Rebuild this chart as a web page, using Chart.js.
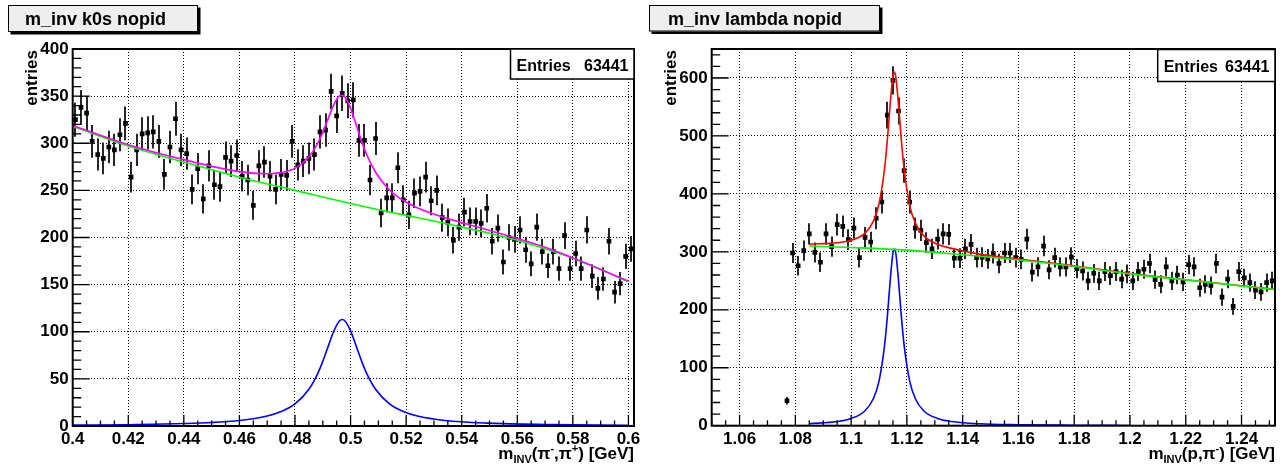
<!DOCTYPE html>
<html>
<head>
<meta charset="utf-8">
<script src="https://cdn.jsdelivr.net/npm/chart.js@4.4.0/dist/chart.umd.min.js"></script>
<style>
body { margin: 0; background: #fff; }
#wrap { position: relative; width: 1288px; height: 467px; }
canvas { position: absolute; top: 0; }
</style>
</head>
<body>
<div id="wrap">
<canvas id="k0s" width="644" height="467" style="left:0"></canvas>
<canvas id="lambda" width="644" height="467" style="left:644px"></canvas>
</div>
<script>
/* globals Chart */

// ---- K0s panel: bin centres [GeV] and entries per bin
const k0sMass = [
    0.401, 0.403, 0.405, 0.407, 0.409, 0.411, 0.413, 0.415, 0.417, 0.419,
    0.421, 0.423, 0.425, 0.427, 0.429, 0.431, 0.433, 0.435, 0.437, 0.439,
    0.441, 0.443, 0.445, 0.447, 0.449, 0.451, 0.453, 0.455, 0.457, 0.459,
    0.461, 0.463, 0.465, 0.467, 0.469, 0.471, 0.473, 0.475, 0.477, 0.479,
    0.481, 0.483, 0.485, 0.487, 0.489, 0.491, 0.493, 0.495, 0.497, 0.499,
    0.501, 0.503, 0.505, 0.507, 0.509, 0.511, 0.513, 0.515, 0.517, 0.519,
    0.521, 0.523, 0.525, 0.527, 0.529, 0.531, 0.533, 0.535, 0.537, 0.539,
    0.541, 0.543, 0.545, 0.547, 0.549, 0.551, 0.553, 0.555, 0.557, 0.559,
    0.561, 0.563, 0.565, 0.567, 0.569, 0.571, 0.573, 0.575, 0.577, 0.579,
    0.581, 0.583, 0.585, 0.587, 0.589, 0.591, 0.593, 0.595, 0.597, 0.599,
    0.601
];
const k0sCounts = [
    325, 338, 332, 302, 288, 284, 296, 293, 309, 321,
    264, 293, 310, 311, 312, 302, 267, 296, 326, 293,
    289, 251, 273, 241, 276, 256, 254, 285, 281, 287,
    265, 261, 234, 276, 280, 265, 251, 267, 266, 302,
    277, 281, 284, 288, 312, 314, 355, 329, 353, 345,
    346, 303, 303, 261, 305, 226, 242, 242, 274, 240,
    224, 247, 249, 264, 239, 250, 221, 216, 197, 211,
    227, 217, 217, 215, 231, 196, 210, 174, 200, 198,
    208, 187, 172, 211, 185, 170, 185, 167, 202, 167,
    183, 167, 208, 159, 146, 156, 196, 142, 151, 180,
    188
];
// fit curves
const k0sFitMass = [0.4, 0.42, 0.44, 0.46, 0.47, 0.475, 0.48, 0.485, 0.488, 0.49, 0.492, 0.494, 0.496, 0.497,
    0.498, 0.5, 0.502, 0.504, 0.506, 0.509, 0.514, 0.519, 0.524, 0.534, 0.55, 0.57, 0.6];
const k0sSignal = [0.9, 1.4, 2.6, 5.9, 10.6, 15.3, 23.4, 39, 54.6, 68.6, 85, 101, 111.5, 113,
    111.5, 101, 85, 68.6, 54.6, 39, 23.4, 15.3, 10.6, 5.9, 3, 1.6, 0.8];
const k0sTotal = [318.9, 298.4, 282.6, 269.9, 267.6, 268.8, 273.4, 285.5, 299.1, 311.6, 326.5, 341.2, 350.3, 351,
    348.9, 337, 319.7, 302, 286.6, 269.2, 250.4, 239.3, 231.6, 220.9, 207.5, 189.6, 153.8];
const k0sBkgMass = [0.4, 0.42, 0.44, 0.46, 0.48, 0.5, 0.51, 0.52, 0.53, 0.54, 0.55, 0.56, 0.57, 0.58, 0.59, 0.6];
const k0sBkg = [318, 297, 280, 264, 250, 236, 229.5, 223.5, 217.5, 211, 204.5, 197, 188, 178, 166, 153];
const k0sXTicks = [0.4, 0.42, 0.44, 0.46, 0.48, 0.5, 0.52, 0.54, 0.56, 0.58, 0.6];
const k0sYTicks = [0, 50, 100, 150, 200, 250, 300, 350, 400];

// ---- Lambda panel
const lambdaMass = [
    1.051, 1.053, 1.055, 1.057, 1.059, 1.061, 1.063, 1.065, 1.067, 1.069,
    1.071, 1.073, 1.075, 1.077, 1.079, 1.081, 1.083, 1.085, 1.087, 1.089,
    1.091, 1.093, 1.095, 1.097, 1.099, 1.101, 1.103, 1.105, 1.107, 1.109,
    1.111, 1.113, 1.115, 1.117, 1.119, 1.121, 1.123, 1.125, 1.127, 1.129,
    1.131, 1.133, 1.135, 1.137, 1.139, 1.141, 1.143, 1.145, 1.147, 1.149,
    1.151, 1.153, 1.155, 1.157, 1.159, 1.161, 1.163, 1.165, 1.167, 1.169,
    1.171, 1.173, 1.175, 1.177, 1.179, 1.181, 1.183, 1.185, 1.187, 1.189,
    1.191, 1.193, 1.195, 1.197, 1.199, 1.201, 1.203, 1.205, 1.207, 1.209,
    1.211, 1.213, 1.215, 1.217, 1.219, 1.221, 1.223, 1.225, 1.227, 1.229,
    1.231, 1.233, 1.235, 1.237, 1.239, 1.241, 1.243, 1.245, 1.247, 1.249,
    1.251
];
const lambdaCounts = [
    null, null, null, null, null, null, null, null, null, null,
    null, null, null, 43, 298, 276, 302, 331, 299, 282,
    331, 309, 347, 344, 321, 341, 290, 325, 317, 358,
    386, 536, 596, 543, 440, 386, 341, 337, 316, 305,
    322, 331, 330, 289, 289, 305, 313, 290, 291, 288,
    297, 280, 298, 298, 290, 287, 322, 265, 274, 310,
    269, 290, 274, 274, 291, 271, 267, 250, 263, 250,
    266, 259, 266, 253, 262, 250, 266, 270, 280, 252,
    244, 274, 250, 260, 248, 278, 274, 238, 244, 242,
    280, 222, 253, 206, 266, 255, 247, 234, 231, 247,
    250
];
const lambdaFitMass = [1.085, 1.095, 1.1, 1.105, 1.108, 1.11, 1.112, 1.113, 1.114, 1.115, 1.1155, 1.116,
    1.117, 1.118, 1.119, 1.121, 1.123, 1.126, 1.131, 1.136, 1.146, 1.16, 1.18, 1.2];
const lambdaSignal = [3.3, 7.3, 12.4, 25.9, 47, 77, 139, 189, 250, 298, 305, 298,
    250, 189, 139, 77, 47, 25.9, 12.4, 7.3, 3.3, 1.6, 0.8, 0.4];
const lambdaTotalMass = [1.085, 1.095, 1.1, 1.105, 1.108, 1.11, 1.112, 1.113, 1.114, 1.115, 1.1155, 1.116,
    1.117, 1.118, 1.119, 1.121, 1.123, 1.126, 1.131, 1.136, 1.146, 1.16, 1.18, 1.2, 1.226, 1.252];
const lambdaTotal = [313.3, 315.8, 320, 332.4, 353, 382.5, 444, 494, 555, 603, 609.6, 602.5,
    554, 493, 443, 380, 350, 328, 313, 306, 296, 287.6, 275.8, 262.4, 248.8, 235.2];
const lambdaBkgMass = [1.085, 1.1, 1.12, 1.14, 1.16, 1.18, 1.2, 1.226, 1.252];
const lambdaBkg = [310, 307.5, 303, 295, 286, 275, 262, 248.5, 235];
const lambdaXTicks = [1.06, 1.08, 1.1, 1.12, 1.14, 1.16, 1.18, 1.2, 1.22, 1.24];
const lambdaYTicks = [0, 100, 200, 300, 400, 500, 600];

const FONT = '"Liberation Sans", Arial, Helvetica, sans-serif';
Chart.defaults.font.family = FONT;

function pairs(xs, ys) {
    return xs.map((x, i) => ({ x: x, y: ys[i] }));
}

// draws a list of [text, size, shift] pieces ending at x
function richText(ctx, pieces, xRight, base) {
    let widths = pieces.map(p => {
        ctx.font = "bold " + p[1] + "px " + FONT;
        return ctx.measureText(p[0]).width;
    });
    let x = xRight - widths.reduce((a, b) => a + b, 0);
    pieces.forEach((p, i) => {
        ctx.font = "bold " + p[1] + "px " + FONT;
        ctx.fillText(p[0], x, base + p[2]);
        x += widths[i];
    });
}

// ROOT-like decoration: frame, inward ticks, title box, stats box, axis titles, error bars
function rootDeco(p) {
    return {
        id: "rootDeco",
        beforeDatasetsDraw(chart) {
            const ctx = chart.ctx, ys = chart.scales.y, a = chart.chartArea;
            chart.data.datasets.forEach((ds, i) => {
                if (!ds.errorBars) return;
                const meta = chart.getDatasetMeta(i);
                ctx.save();
                ctx.beginPath();
                ctx.rect(a.left, a.top, a.right - a.left, a.bottom - a.top);
                ctx.clip();
                ctx.strokeStyle = "#262626";
                ctx.lineWidth = 2;
                meta.data.forEach((pt, j) => {
                    const v = ds.data[j].y;
                    if (v === null) return;
                    const e = Math.sqrt(v); // poisson error of the bin
                    const x = Math.round(pt.x);
                    ctx.beginPath();
                    ctx.moveTo(x, ys.getPixelForValue(v - e));
                    ctx.lineTo(x, ys.getPixelForValue(v + e));
                    ctx.stroke();
                });
                ctx.restore();
            });
        },
        afterDraw(chart) {
            const ctx = chart.ctx, a = chart.chartArea;
            const xs = chart.scales.x, ys = chart.scales.y;
            ctx.save();
            ctx.strokeStyle = "#000";
            ctx.fillStyle = "#000";

            // ticks pointing into the frame
            ctx.lineWidth = 1.3;
            ctx.beginPath();
            let n = Math.floor((xs.max - xs.min) / p.xMinor + 1e-6);
            for (let k = 0; k <= n; k++) {
                let px = xs.getPixelForValue(xs.min + k * p.xMinor);
                ctx.moveTo(px, a.bottom);
                ctx.lineTo(px, a.bottom - 5.5);
            }
            xs.ticks.forEach(t => {
                let px = xs.getPixelForValue(t.value);
                ctx.moveTo(px, a.bottom);
                ctx.lineTo(px, a.bottom - 11);
            });
            n = Math.floor((ys.max - ys.min) / p.yMinor + 1e-6);
            for (let k = 0; k <= n; k++) {
                let py = ys.getPixelForValue(ys.min + k * p.yMinor);
                ctx.moveTo(a.left, py);
                ctx.lineTo(a.left + 8.5, py);
            }
            ys.ticks.forEach(t => {
                let py = ys.getPixelForValue(t.value);
                ctx.moveTo(a.left, py);
                ctx.lineTo(a.left + 17, py);
            });
            ctx.stroke();

            // frame
            ctx.lineWidth = 2;
            ctx.strokeRect(a.left, a.top, a.right - a.left, a.bottom - a.top);

            // title box with shadow
            const b = p.titleBox;
            ctx.fillStyle = "#000";
            ctx.fillRect(b[0] + 2.5, b[1] + 2.5, b[2], b[3]);
            ctx.fillStyle = "#eeeeee";
            ctx.fillRect(b[0], b[1], b[2], b[3]);
            ctx.lineWidth = 1;
            ctx.strokeRect(b[0] + 0.5, b[1] + 0.5, b[2] - 1, b[3] - 1);
            ctx.fillStyle = "#000";
            ctx.font = "bold 18px " + FONT;
            ctx.textBaseline = "alphabetic";
            ctx.textAlign = "left";
            ctx.fillText(p.title, p.titleX, p.titleY);

            // stats box
            const s = p.statsBox;
            ctx.fillStyle = "#fff";
            ctx.fillRect(s[0], s[1], s[2], s[3]);
            ctx.lineWidth = 1.5;
            ctx.strokeRect(s[0], s[1], s[2], s[3]);
            ctx.fillStyle = "#000";
            ctx.font = "bold 16px " + FONT;
            ctx.textAlign = "left";
            ctx.fillText("Entries", s[0] + 6, p.statsY);
            ctx.textAlign = "right";
            ctx.fillText(p.entries, s[0] + s[2] - 5.5, p.statsY);

            // y axis title, aligned to the top of the axis
            ctx.save();
            ctx.translate(p.yTitleX, a.top + 1);
            ctx.rotate(-Math.PI / 2);
            ctx.textAlign = "right";
            ctx.font = "bold 17px " + FONT;
            ctx.fillText("entries", 0, 0);
            ctx.restore();

            // x axis title, aligned to the right end of the axis
            ctx.textAlign = "left";
            richText(ctx, p.xTitle, a.right, 459);
            ctx.restore();
        }
    };
}

function makePanel(id, p) {
    const tickFont = { size: 17, weight: "bold" };
    const curves = p.curves.map(c => ({
        data: pairs(c.x, c.y),
        showLine: true,
        borderColor: c.color,
        borderWidth: 1.6,
        pointRadius: 0,
        fill: false,
        cubicInterpolationMode: "monotone",
        order: c.order
    }));
    new Chart(document.getElementById(id), {
        type: "scatter",
        data: {
            datasets: curves.concat([{
                data: pairs(p.mass, p.counts),
                pointStyle: "rect",
                pointRadius: 3.3,
                backgroundColor: "#000",
                borderColor: "#000",
                borderWidth: 0,
                order: 10,
                errorBars: true
            }])
        },
        options: {
            responsive: false,
            animation: false,
            events: [],
            layout: { padding: { left: 0, right: p.padRight, top: 49, bottom: 0 } },
            plugins: { legend: { display: false }, tooltip: { enabled: false } },
            scales: {
                x: {
                    type: "linear",
                    min: p.xMin,
                    max: p.xMax,
                    afterBuildTicks: s => { s.ticks = p.xTicks.map(v => ({ value: v })); },
                    afterFit: s => { s.height = p.xHeight; },
                    ticks: {
                        font: tickFont, color: "#000", padding: 3,
                        maxRotation: 0, autoSkip: false,
                        callback: v => String(v)
                    },
                    grid: { color: "#000", lineWidth: 1, drawTicks: false },
                    border: { display: false, dash: [1, 2] }
                },
                y: {
                    min: p.yMin,
                    max: p.yMax,
                    afterBuildTicks: s => { s.ticks = p.yTicks.map(v => ({ value: v })); },
                    afterFit: s => { s.width = p.yWidth; },
                    ticks: {
                        font: tickFont, color: "#000", padding: 4,
                        autoSkip: false,
                        callback: v => String(v)
                    },
                    grid: { color: "#000", lineWidth: 1, drawTicks: false },
                    border: { display: false, dash: [1, 2] }
                }
            }
        },
        plugins: [rootDeco(p)]
    });
}

function main() {
    makePanel("k0s", {
        mass: k0sMass,
        counts: k0sCounts,
        curves: [
            { x: k0sFitMass, y: k0sTotal, color: "#ff00ff", order: 1 },
            { x: k0sBkgMass, y: k0sBkg, color: "#00ff00", order: 2 },
            { x: k0sFitMass, y: k0sSignal, color: "#0000ff", order: 3 }
        ],
        xMin: 0.4, xMax: 0.602, xTicks: k0sXTicks, xMinor: 0.005,
        yMin: 0, yMax: 400, yTicks: k0sYTicks, yMinor: 10,
        yWidth: 72.7, xHeight: 41, padRight: 10,
        title: "m_inv k0s nopid", titleBox: [8, 5, 190, 27], titleX: 25, titleY: 25,
        statsBox: [510.5, 49, 123.5, 30], statsY: 70.5, entries: "63441",
        yTitleX: 36.5,
        xTitle: [["m", 17, 0], ["INV", 11, 4], ["(\u03c0", 17, 0], ["-", 11, -7],
            [",\u03c0", 17, 0], ["+", 11, -7], [") [GeV]", 17, 0]]
    });
    makePanel("lambda", {
        mass: lambdaMass,
        counts: lambdaCounts,
        curves: [
            { x: lambdaBkgMass, y: lambdaBkg, color: "#00ff00", order: 1 },
            { x: lambdaTotalMass, y: lambdaTotal, color: "#ff0000", order: 2 },
            { x: lambdaFitMass, y: lambdaSignal, color: "#0000ff", order: 3 }
        ],
        xMin: 1.05, xMax: 1.252, xTicks: lambdaXTicks, xMinor: 0.005,
        yMin: 0, yMax: 650, yTicks: lambdaYTicks, yMinor: 20,
        yWidth: 67.7, xHeight: 41.3, padRight: 13,
        title: "m_inv lambda nopid", titleBox: [5, 5, 231, 26.5], titleX: 24, titleY: 25,
        statsBox: [513.7, 49.5, 117.3, 32], statsY: 71.5, entries: "63441",
        yTitleX: 31.5,
        xTitle: [["m", 17, 0], ["INV", 11, 4], ["(p,\u03c0", 17, 0], ["-", 11, -7], [") [GeV]", 17, 0]]
    });
}

document.addEventListener("DOMContentLoaded", main);
</script>
</body>
</html>
